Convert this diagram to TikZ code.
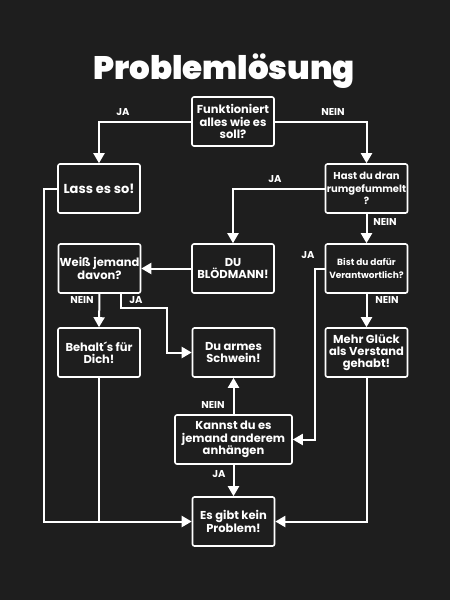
\documentclass[tikz,border=0pt]{standalone}
\usepackage{fontspec}
\setmainfont{Poppins}[BoldFont={Poppins Bold}]
\newfontfamily\dickfont{Poppins Black}
\usetikzlibrary{arrows.meta}
\usetikzlibrary{positioning}

\definecolor{stoff}{RGB}{30,30,30}

\begin{document}
\begin{tikzpicture}[x=1pt,y=-1pt,
  kasten/.style={draw=white,line width=1.6pt,rounded corners=2pt,fill=stoff,text=white,
    font=\bfseries\fontsize{11.5}{12.2}\selectfont,align=center,
    minimum width=82pt,minimum height=49pt,inner sep=1pt},
  pfeil/.style={draw=white,line width=2pt,-{Triangle[length=10pt,width=11pt]}},
  linie/.style={draw=white,line width=2pt},
  antwort/.style={text=white,font=\bfseries\fontsize{10}{10}\selectfont}]
\fill[stoff] (0,0) rectangle (450,600);

\node[text=white,font=\dickfont\fontsize{32.5}{36}\selectfont] (titel) at (224,71) {Problemlösung};

\node[kasten] (funktioniert) at (233,121.5) {Funktioniert\\alles wie es\\soll?};
\node[kasten,font=\bfseries\fontsize{13}{13}\selectfont] (lass) at (99,188.5) {Lass es so!};
\node[kasten,font=\bfseries\fontsize{10}{12.2}\selectfont] (hast) at (366.5,188.5) {Hast du dran\\rumgefummelt\\?};
\node[kasten] (bloed) at (233,268.5) {DU\\BLÖDMANN!};
\node[kasten] (weiss) at (99.5,268.5) {Weiß jemand\\davon?};
\node[kasten,font=\bfseries\fontsize{9}{12.2}\selectfont] (bist) at (366.5,268.5) {Bist du dafür\\Verantwortlich?};
\node[kasten] (behalt) at (99,352.5) {Behalt´s für\\Dich!};
\node[kasten] (armes) at (233.5,352.5) {Du armes\\Schwein!};
\node[kasten] (glueck) at (366.5,352.5) {Mehr Glück\\als Verstand\\gehabt!};
\node[kasten,minimum width=117pt] (kannst) at (233.5,439.5) {Kannst du es\\jemand anderem\\anhängen};
\node[kasten] (problem) at (233.5,521.5) {Es gibt kein\\Problem!};

\coordinate (jaknick) at (167,308);
\coordinate (bistknick) at (315,300);
\coordinate (linkskante) at (44,400);

\draw[pfeil] (funktioniert.west) -| (lass.north);
\draw[pfeil] (funktioniert.east) -| (hast.north);
\draw[pfeil] (hast.west) -| (bloed.north);
\draw[pfeil] (hast.south) -- (bist.north);
\draw[pfeil] (bloed.west) -- (weiss.east);
\draw[pfeil] (weiss.south) -- (behalt.north);
\draw[pfeil] ([xshift=21pt]weiss.south) |- (jaknick) |- (armes.west);
\draw[pfeil] (bist.west) -| (bistknick) |- (kannst.east);
\draw[pfeil] (bist.south) -- (glueck.north);
\draw[pfeil] (kannst.north) -- (armes.south);
\draw[pfeil] (kannst.south) -- (problem.north);
\draw[pfeil] (lass.west) -| (linkskante) |- (problem.west);
\draw[linie] (behalt.south) -- (behalt.south |- problem.west);
\draw[pfeil] (glueck.south) |- (problem.east);

\node[antwort] (ja1) at (123,112) {JA};
\node[antwort] (nein1) at (333,112) {NEIN};
\node[antwort] (ja2) at (275,179) {JA};
\node[antwort] (nein2) at (385,222) {NEIN};
\node[antwort] (ja3) at (308,255) {JA};
\node[antwort] (nein3) at (82,300) {NEIN};
\node[antwort] (ja4) at (136,300) {JA};
\node[antwort] (nein4) at (387,300) {NEIN};
\node[antwort] (nein5) at (213,405) {NEIN};
\node[antwort] (ja5) at (219,474) {JA};

\end{tikzpicture}
\end{document}
